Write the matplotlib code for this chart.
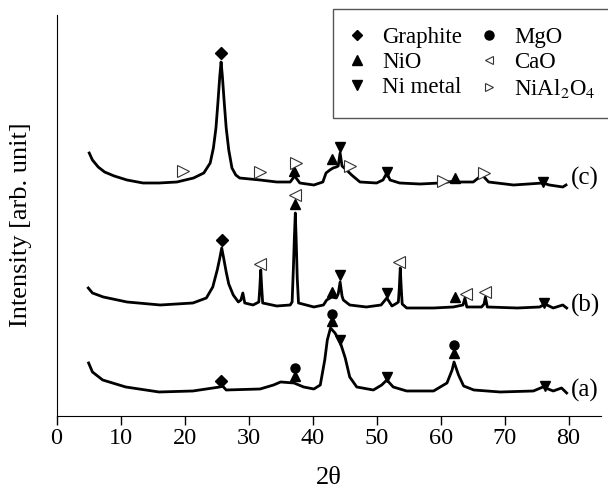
import matplotlib.pyplot as plt
from matplotlib.lines import Line2D

plt.rcParams['font.family'] = 'Liberation Serif'
plt.rcParams['mathtext.fontset'] = 'stix'

# XRD patterns (2theta, intensity in arb. units)
tt_a = [5.0, 5.6, 7.2, 10.8, 16.0, 21.3, 25.5, 25.8, 26.5, 31.8, 33.9, 35.0, 37.1, 38.6,
        40.2, 41.2, 41.9, 42.3, 42.8, 43.5, 44.3, 45.1, 45.8, 46.9, 49.5, 50.8, 51.6,
        52.6, 54.7, 58.9, 61.0, 61.8, 62.1, 62.8, 63.6, 65.2, 69.3, 74.5, 76.0, 77.6,
        78.9, 79.7]
int_a = [55, 46, 38, 31, 26, 27, 31, 33, 28, 29, 33, 36, 35, 31,
         29, 33, 58, 78, 90, 85, 76, 60, 41, 31, 28, 33, 38,
         31, 27, 27, 35, 48, 56, 43, 32, 28, 26, 27, 31, 27,
         30, 25]

tt_b = [4.95, 5.6, 7.3, 11.0, 16.2, 21.3, 23.4, 24.4, 25.1, 25.5, 25.8, 26.1, 26.5,
        26.9, 27.6, 28.4, 28.8, 29.1, 29.4, 30.7, 31.6, 31.75, 31.9, 32.05, 32.2,
        34.4, 36.5, 36.8, 37.0, 37.15, 37.3, 37.45, 37.6, 37.8, 40.2, 41.7, 42.2,
        43.0, 43.7, 44.0, 44.3, 44.6, 44.8, 45.8, 48.4, 50.7, 51.6, 52.4, 53.2,
        53.4, 53.55, 53.7, 53.85, 54.0, 54.7, 58.9, 62.0, 63.5, 63.8, 64.1, 66.4,
        66.8, 67.0, 67.3, 72.0, 75.5, 76.3, 77.6, 79.1, 79.7]
int_b = [130, 125, 121, 116, 113, 115, 120, 131, 148, 160, 170, 160, 146,
         134, 123, 116, 118, 125, 115, 113, 116, 130, 148, 130, 115,
         112, 113, 116, 150, 180, 205, 175, 140, 115, 111, 113, 118,
         121, 120, 124, 136, 122, 118, 113, 111, 113, 120, 112, 115,
         116, 130, 150, 130, 114, 110, 110, 111, 113, 120, 111, 111,
         114, 121, 111, 110, 111, 114, 110, 113, 110]

tt_c = [5.1, 5.6, 6.5, 7.5, 9.0, 11.0, 13.5, 16.0, 18.8, 21.4, 23.0, 24.0, 24.5,
        24.9, 25.2, 25.5, 25.7, 25.9, 26.2, 26.5, 26.9, 27.4, 28.0, 28.6, 31.8,
        34.4, 36.5, 37.2, 38.0, 40.2, 41.6, 42.1, 42.7, 43.2, 43.7, 44.0, 44.3,
        44.6, 45.3, 46.1, 47.4, 50.0, 51.0, 51.6, 52.1, 53.6, 56.8, 59.9, 62.3,
        62.8, 65.1, 66.5, 67.5, 71.4, 76.0, 77.0, 79.1, 79.6]
int_c = [265, 258, 251, 246, 242, 238, 235, 235, 236, 240, 245, 255, 270,
         290, 315, 342, 356, 342, 315, 290, 268, 250, 243, 240, 238,
         236, 236, 242, 235, 233, 236, 245, 248, 250, 251, 252, 265,
         252, 248, 243, 236, 235, 238, 245, 238, 235, 234, 235, 237,
         236, 236, 243, 236, 233, 235, 233, 231, 233]

curve_labels = ['(a)', '(b)', '(c)']
label_levels = [28, 113, 240]

# phase markers (2theta, intensity)
graphite_x = [25.7, 25.8, 25.7]
graphite_y = [365, 178, 37]
nio_x = [37.1, 43.0, 62.3, 37.3, 43.0, 62.3, 37.3, 43.0, 62.1]
nio_y = [247, 259, 240, 214, 126, 121, 42, 97, 65]
ni_x = [44.3, 51.6, 76.0, 44.3, 51.7, 76.2, 44.3, 51.7, 76.3]
ni_y = [271, 246, 236, 143, 125, 115, 78, 41, 32]
mgo_x = [37.3, 43.0, 62.1]
mgo_y = [50, 104, 73]
cao_x = [31.8, 37.3, 53.5, 64.0, 67.0]
cao_y = [154, 223, 156, 124, 126]
nial_x = [19.7, 31.8, 37.4, 45.8, 60.3, 66.8]
nial_y = [247, 246, 255, 252, 237, 245]

fig = plt.figure(figsize=(6.08, 4.92), dpi=100)
ax = fig.add_axes([0.0931, 0.1545, 0.8947, 0.815])

for tt, inten in [(tt_a, int_a), (tt_b, int_b), (tt_c, int_c)]:
    ax.plot(tt, inten, color='black', lw=2.0, solid_joinstyle='round')

filled = dict(ls='none', color='black', clip_on=False)
opened = dict(ls='none', mfc='white', mec='#333333', mew=0.8, clip_on=False)
ax.plot(graphite_x, graphite_y, marker='D', ms=6.5, **filled)
ax.plot(nio_x, nio_y, marker='^', ms=7.5, **filled)
ax.plot(ni_x, ni_y, marker='v', ms=7.5, **filled)
ax.plot(mgo_x, mgo_y, marker='o', ms=6.5, **filled)
ax.plot(cao_x, cao_y, marker='<', ms=8.5, **opened)
ax.plot(nial_x, nial_y, marker='>', ms=8.5, **opened)

for lab, lev in zip(curve_labels, label_levels):
    ax.text(80.3, lev, lab, fontsize=18, va='center', ha='left')

handles = [
    Line2D([], [], ls='none', marker='D', ms=5, color='black', label='Graphite'),
    Line2D([], [], ls='none', marker='^', ms=6.5, color='black', label='NiO'),
    Line2D([], [], ls='none', marker='v', ms=6.5, color='black', label='Ni metal'),
    Line2D([], [], ls='none', marker='o', ms=6.5, color='black', label='MgO'),
    Line2D([], [], ls='none', marker='<', ms=5.5, mfc='white', mec='#333333', mew=0.8, label='CaO'),
    Line2D([], [], ls='none', marker='>', ms=5.5, mfc='white', mec='#333333', mew=0.8,
           label='NiAl$_2$O$_4$'),
]
leg = ax.legend(handles=handles, ncol=2, loc='upper left', bbox_to_anchor=(0.5477, 0.9817),
                bbox_transform=fig.transFigure, fontsize=16.5, frameon=True, fancybox=False,
                edgecolor='#555555', framealpha=1, borderaxespad=0, borderpad=0.8,
                handlelength=0.49, handletextpad=0.85, columnspacing=0.95, labelspacing=0.16)
leg.get_frame().set_linewidth(1.0)

ax.set_xlim(0, 85)
ax.set_ylim(2, 403)
ax.set_xticks(range(0, 90, 10))
ax.set_yticks([])
ax.spines['top'].set_visible(False)
ax.spines['right'].set_visible(False)
ax.tick_params(axis='x', direction='out', length=6.5, width=1, labelsize=17.5, pad=2)
ax.set_xlabel('2θ', fontsize=19)
ax.xaxis.set_label_coords(0.5, -0.128)
ax.set_ylabel('Intensity [arb. unit]', fontsize=19)
ax.yaxis.set_label_coords(-0.045, 0.476)

fig.savefig('out.png', dpi=100)
